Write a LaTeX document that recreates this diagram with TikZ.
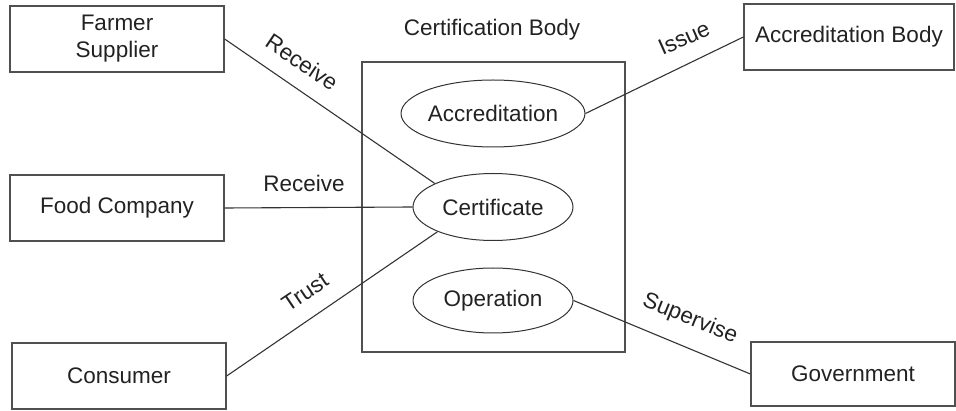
\documentclass[tikz,border=0pt]{standalone}
\usepackage{fontspec}
\setmainfont{Liberation Sans}
\usetikzlibrary{shapes.geometric}
\definecolor{boxline}{HTML}{505050}
\definecolor{conline}{HTML}{333333}
\definecolor{txt}{HTML}{222222}
\tikzset{
  every node/.style={text=txt, font=\fontsize{22.5}{27}\selectfont},
  actor/.style={draw=boxline, line width=1.3pt, rectangle, inner sep=0pt, align=center},
  usecase/.style={draw=conline, line width=1pt, ellipse, inner sep=0pt, minimum width=160pt},
  conn/.style={draw=conline, line width=1.1pt},
  lbl/.style={inner sep=0pt}
}
\begin{document}
\begin{tikzpicture}[x=1pt,y=-1pt]
\useasboundingbox (0,0) rectangle (956,411);
% actor boxes
\node[actor, minimum width=214pt, minimum height=66pt] (farmer) at (117,39) {Farmer\\Supplier};
\node[actor, minimum width=214pt, minimum height=66pt] (food) at (117,208) {Food Company};
\node[actor, minimum width=214pt, minimum height=66pt] (consumer) at (119,376) {Consumer};
\node[actor, minimum width=210pt, minimum height=66pt] (accb) at (849,37) {Accreditation Body};
\node[actor, minimum width=204pt, minimum height=64pt] (gov) at (853,374) {Government};
% certification body
\node[actor, minimum width=263pt, minimum height=290pt] (cbody) at (493.5,207) {};
\node[lbl] (cblabel) at (492,30) {Certification Body};
% use cases
\node[usecase, minimum height=67pt] (accr) at (493,113.5) {Accreditation};
\node[usecase, minimum height=67pt] (cert) at (493,207) {Certificate};
\node[usecase, minimum height=65pt] (oper) at (493,300.5) {Operation};
% connectors
\draw[conn] (farmer.east) -- (cert.158);
\draw[conn] (food.east) -- (cert.west);
\draw[conn] (consumer.east) -- (cert.204);
\draw[conn] (accr.east) -- (accb.west);
\draw[conn] (oper.east) -- (gov.west);
% labels
\node[lbl, rotate=-34] (l1) at (302,62) {Receive};
\node[lbl, anchor=base] (l2) at (304,192) {Receive};
\node[lbl, rotate=34] (l3) at (305,292) {Trust};
\node[lbl, rotate=24] (l4) at (684,38) {Issue};
\node[lbl, rotate=-22] (l5) at (690,319) {Supervise};
\end{tikzpicture}
\end{document}
